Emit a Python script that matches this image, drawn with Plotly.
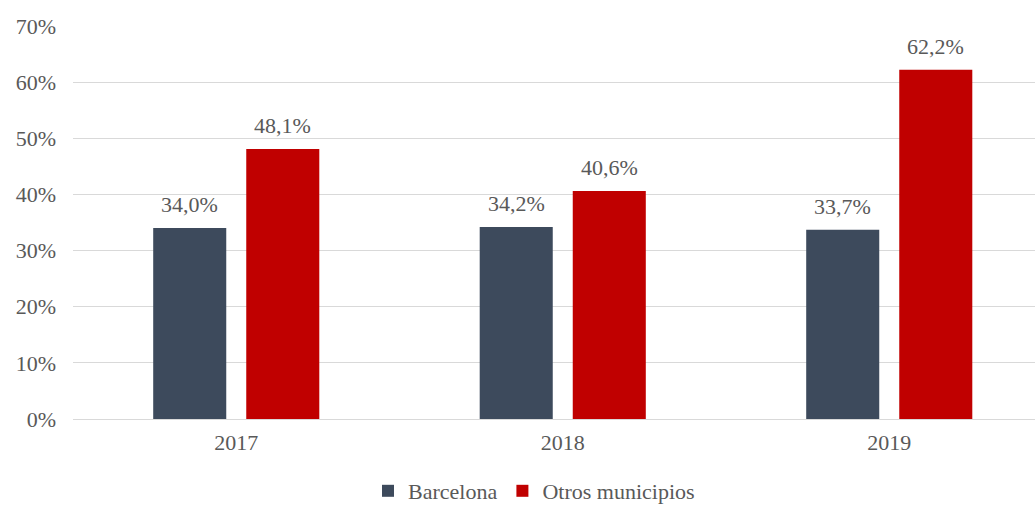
import plotly.graph_objects as go

# Share per year, Barcelona vs. the rest of municipalities (%)
years = ["2017", "2018", "2019"]
barcelona = [34.0, 34.2, 33.7]
otros = [48.1, 40.6, 62.2]
series_names = ["Barcelona", "Otros municipios"]
series_colors = ["#3D4A5C", "#C00000"]

W, H = 1035, 505
M_L, M_R, M_T, M_B = 73, 0, 26, 86
cat_px = 326.5                      # pixel width of one category slot
plot_w = W - M_L - M_R
x_range = [-0.5, -0.5 + plot_w / cat_px]

FONT = "Liberation Serif, Times New Roman, serif"
TXT = "#595959"


def fmt(v):
    return f"{v:.1f}".replace(".", ",") + "%"


fig = go.Figure()
for name, vals, col in zip(series_names, [barcelona, otros], series_colors):
    fig.add_trace(go.Bar(
        x=years, y=vals, name=name, marker_color=col,
        marker_line_width=0, hoverinfo="skip",
    ))

# value labels above each bar (x given as category index)
bar_shift = 46.5
for vals, dx in [(barcelona, -bar_shift), (otros, bar_shift)]:
    for i, v in enumerate(vals):
        fig.add_annotation(
            x=i, y=v, xref="x", yref="y", text=fmt(v), showarrow=False,
            xanchor="center", yanchor="bottom", xshift=dx, yshift=9,
            font=dict(family=FONT, size=22, color=TXT),
        )

fig.update_layout(
    width=W, height=H,
    margin=dict(l=M_L, r=M_R, t=M_T, b=M_B, pad=0, autoexpand=False),
    paper_bgcolor="white", plot_bgcolor="white",
    barmode="group", bargap=0.43, bargroupgap=0.215,
    font=dict(family=FONT, size=22, color=TXT),
    showlegend=True,
    legend=dict(
        orientation="h", xref="container", yref="container",
        x=368 / W, xanchor="left",
        y=(H - 491) / H, yanchor="middle",
        font=dict(family=FONT, size=22, color=TXT),
        bgcolor="rgba(0,0,0,0)", itemwidth=30, tracegroupgap=0,
    ),
    xaxis=dict(
        type="category", range=x_range, showgrid=False, zeroline=False,
        showline=False, ticks="", ticklabelstandoff=8, automargin=False,
        tickfont=dict(family=FONT, size=22, color=TXT),
    ),
    yaxis=dict(
        range=[0, 70], dtick=10, ticksuffix="%", showgrid=True,
        gridcolor="#D9D9D9", gridwidth=1, zeroline=True,
        zerolinecolor="#D9D9D9", zerolinewidth=1, showline=False,
        ticks="", ticklabelstandoff=16, automargin=False,
        tickfont=dict(family=FONT, size=22, color=TXT),
    ),
)

fig.write_html("out.html")
